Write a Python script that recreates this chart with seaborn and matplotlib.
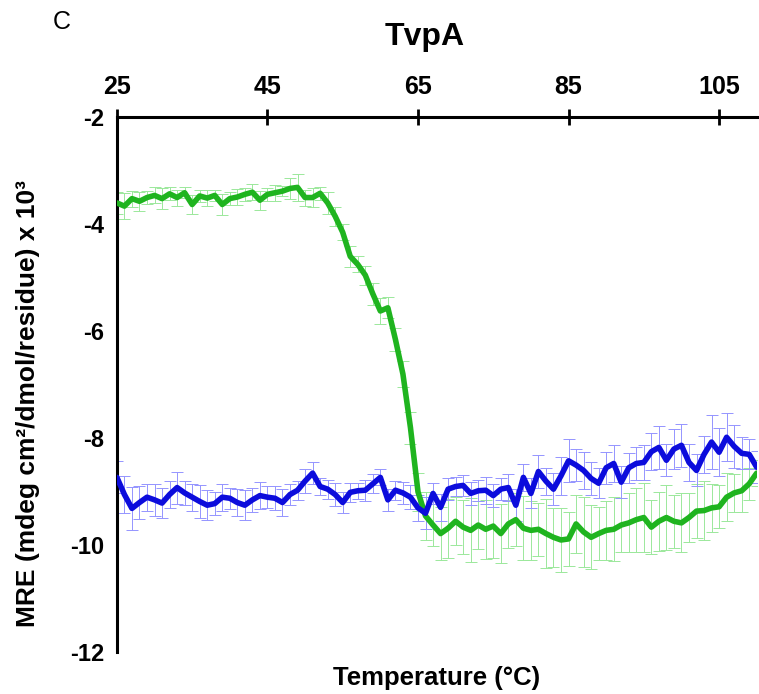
import matplotlib
matplotlib.use("Agg")
import matplotlib.pyplot as plt
import seaborn as sns
import pandas as pd

temperature = list(range(25, 111))

green_mre = [-3.60, -3.66, -3.52, -3.57, -3.50, -3.46, -3.52, -3.43, -3.50, -3.41,
             -3.63, -3.47, -3.51, -3.46, -3.63, -3.52, -3.49, -3.44, -3.40, -3.55,
             -3.44, -3.41, -3.38, -3.33, -3.31, -3.50, -3.50, -3.42, -3.60, -3.85,
             -4.15, -4.60, -4.75, -4.95, -5.30, -5.62, -5.56, -6.15, -6.80, -7.80,
             -9.00, -9.45, -9.62, -9.78, -9.68, -9.55, -9.66, -9.72, -9.62, -9.70,
             -9.64, -9.78, -9.60, -9.52, -9.68, -9.72, -9.70, -9.78, -9.85, -9.90,
             -9.88, -9.60, -9.75, -9.85, -9.78, -9.72, -9.70, -9.62, -9.58, -9.52,
             -9.48, -9.66, -9.55, -9.48, -9.55, -9.58, -9.48, -9.36, -9.35, -9.30,
             -9.28, -9.10, -9.02, -8.98, -8.85, -8.65]
green_err = [0.20, 0.25, 0.15, 0.18, 0.12, 0.15, 0.20, 0.12, 0.15, 0.10,
             0.18, 0.12, 0.15, 0.10, 0.20, 0.12, 0.15, 0.12, 0.15, 0.18,
             0.12, 0.15, 0.10, 0.20, 0.25, 0.15, 0.18, 0.12, 0.20, 0.18,
             0.15, 0.20, 0.15, 0.18, 0.20, 0.25, 0.20, 0.22, 0.25, 0.30,
             0.35, 0.45, 0.40, 0.50, 0.55, 0.45, 0.50, 0.60, 0.45, 0.55,
             0.60, 0.55, 0.45, 0.50, 0.60, 0.55, 0.50, 0.65, 0.55, 0.60,
             0.50, 0.55, 0.65, 0.60, 0.50, 0.55, 0.60, 0.50, 0.55, 0.60,
             0.65, 0.50, 0.55, 0.60, 0.50, 0.55, 0.45, 0.50, 0.55, 0.45,
             0.40, 0.45, 0.35, 0.40, 0.30, 0.25]

blue_mre = [-8.73, -9.05, -9.31, -9.20, -9.10, -9.15, -9.21, -9.05, -8.92, -9.02,
            -9.10, -9.18, -9.25, -9.22, -9.10, -9.12, -9.20, -9.25, -9.15, -9.07,
            -9.10, -9.12, -9.20, -9.05, -8.97, -8.80, -8.65, -8.90, -8.95, -9.05,
            -9.20, -9.01, -8.98, -8.97, -8.85, -8.73, -9.15, -8.97, -9.02, -9.10,
            -9.30, -9.40, -9.03, -9.29, -8.95, -8.90, -8.88, -9.03, -8.98, -8.97,
            -9.07, -8.95, -8.92, -9.25, -8.73, -9.03, -8.62, -8.80, -8.95, -8.70,
            -8.42, -8.50, -8.60, -8.75, -8.84, -8.55, -8.47, -8.82, -8.55, -8.47,
            -8.45, -8.25, -8.17, -8.41, -8.20, -8.13, -8.45, -8.60, -8.30, -8.07,
            -8.26, -7.98, -8.15, -8.28, -8.30, -8.54]
blue_err = [0.30, 0.35, 0.40, 0.30, 0.25, 0.30, 0.28, 0.25, 0.30, 0.22,
            0.25, 0.30, 0.28, 0.22, 0.25, 0.20, 0.25, 0.28, 0.22, 0.25,
            0.20, 0.22, 0.25, 0.20, 0.18, 0.22, 0.20, 0.15, 0.18, 0.22,
            0.20, 0.18, 0.15, 0.20, 0.18, 0.15, 0.20, 0.18, 0.20, 0.22,
            0.25, 0.30, 0.20, 0.25, 0.20, 0.18, 0.20, 0.22, 0.20, 0.25,
            0.22, 0.20, 0.25, 0.30, 0.25, 0.28, 0.30, 0.25, 0.30, 0.35,
            0.40, 0.30, 0.35, 0.30, 0.28, 0.30, 0.35, 0.30, 0.28, 0.30,
            0.32, 0.35, 0.40, 0.30, 0.38, 0.40, 0.35, 0.30, 0.35, 0.50,
            0.45, 0.45, 0.40, 0.30, 0.28, 0.30]

x_ticks = [25, 45, 65, 85, 105]
y_ticks = [-2, -4, -6, -8, -10, -12]

df = pd.DataFrame({
    "Temperature": temperature * 2,
    "MRE": green_mre + blue_mre,
    "series": ["green"] * len(temperature) + ["blue"] * len(temperature),
})

sns.set_theme(style="white")
plt.rcParams["font.family"] = ["Liberation Sans", "DejaVu Sans"]
plt.rcParams["text.color"] = "black"
plt.rcParams["axes.labelcolor"] = "black"
plt.rcParams["xtick.color"] = "black"
plt.rcParams["ytick.color"] = "black"

fig = plt.figure(figsize=(7.59, 6.94), dpi=100)
ax = fig.add_axes([0.154, 0.06, 0.843, 0.771])

ax.errorbar(temperature, green_mre, yerr=green_err, fmt="none",
            ecolor="#9be89b", elinewidth=0.7, capsize=4, capthick=0.7, zorder=1)
ax.errorbar(temperature, blue_mre, yerr=blue_err, fmt="none",
            ecolor="#9494ff", elinewidth=0.7, capsize=4, capthick=0.7, zorder=1)

sns.lineplot(data=df, x="Temperature", y="MRE", hue="series",
             palette={"green": "#1fb41f", "blue": "#0c0cdc"},
             linewidth=4, legend=False, ax=ax, zorder=3)

ax.set_xlim(25, 110)
ax.set_ylim(-12, -2)
ax.xaxis.tick_top()
ax.xaxis.set_label_position("bottom")
ax.set_xticks(x_ticks)
ax.set_yticks(y_ticks)
ax.set_xticklabels([str(t) for t in x_ticks], fontsize=18, fontweight="bold")
ax.set_yticklabels([str(t) for t in y_ticks], fontsize=17, fontweight="bold")
ax.tick_params(axis="x", direction="inout", length=11, width=2, pad=8, top=True, bottom=False)
ax.tick_params(axis="y", length=0, pad=9, left=True)

for side in ["right", "bottom"]:
    ax.spines[side].set_visible(False)
for side in ["top", "left"]:
    ax.spines[side].set_color("black")
    ax.spines[side].set_linewidth(2.2)

ax.set_xlabel("Temperature (°C)", fontsize=18.5, fontweight="bold", labelpad=10)
ax.set_ylabel("MRE (mdeg cm²/dmol/residue) x 10³", fontsize=19, fontweight="bold")
ax.yaxis.set_label_coords(-0.12, 0.465)

fig.text(0.56, 0.947, "TvpA", fontsize=23, fontweight="bold", ha="center", va="center")
fig.text(0.082, 0.968, "C", fontsize=18, ha="center", va="center")

fig.savefig("out.png", dpi=100)
